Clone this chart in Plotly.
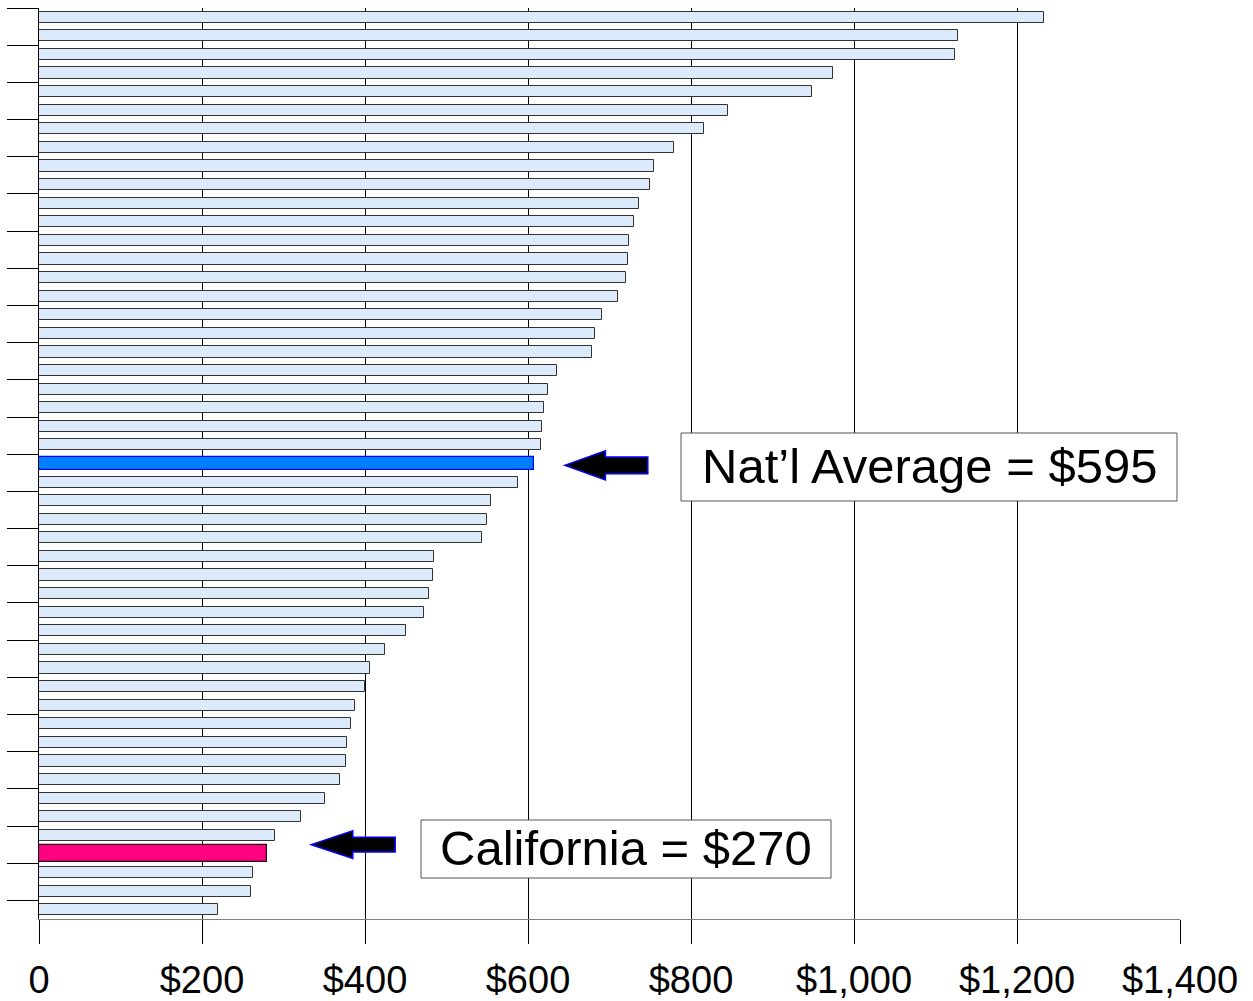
import plotly.graph_objects as go

# ---------------- data (sorted high -> low) ----------------
categories = [f"Rank {i}" for i in range(1, 50)]
categories[24] = "Nat'l Average"
categories[45] = "California"

values = [1233, 1128, 1124, 974, 948, 845, 816, 779, 755, 750,
          736, 730, 724, 723, 720, 711, 691, 682, 678, 636,
          625, 620, 617, 616, 607, 588, 555, 550, 544, 485,
          483, 478, 472, 450, 425, 406, 400, 388, 383, 378,
          377, 369, 351, 322, 289, 280, 262, 260, 220]

highlight_names = ["Nat'l Average", "California"]
highlight_labels = ["Nat\u2019l Average = $595", "California = $270"]

x_tick_values = [0, 200, 400, 600, 800, 1000, 1200, 1400]
x_tick_labels = ["0", "$200", "$400", "$600", "$800", "$1,000", "$1,200", "$1,400"]

# ---------------- layout helpers ----------------
W, H = 1253, 1001
L, R, T, B = 39, 73, 8, 82
FONT = "Liberation Sans, Arial, sans-serif"


def px_x(p):
    return (p - L) / (W - L - R)


def px_y(p):
    return 1 - (p - T) / (H - T - B)


ys = list(range(len(categories)))
n = len(categories)

fig = go.Figure()
fig.add_trace(go.Bar(
    x=values, y=ys, orientation="h", width=0.6,
    marker=dict(color="#DCEBFC", line=dict(color="#333333", width=1)),
    hovertext=categories, showlegend=False,
))

hl_style = {
    "Nat'l Average": dict(color="#0080FF", line="#0000FF", width=0.75),
    "California": dict(color="#FF0080", line="#220011", width=0.92),
}
for name in highlight_names:
    i = categories.index(name)
    st = hl_style[name]
    fig.add_trace(go.Bar(
        x=[values[i]], y=[ys[i]], orientation="h", width=st["width"],
        marker=dict(color=st["color"], line=dict(color=st["line"], width=1.2)),
        hovertext=[name], showlegend=False,
    ))

# arrows (pointing left toward the highlighted bars), geometry in data units
arrow_geom = {
    "Nat'l Average": dict(tip=645, neck=695, end=747, hh=0.78, sh=0.45, dy=0.1),
    "California": dict(tip=334, neck=385, end=437, hh=0.75, sh=0.40, dy=-0.5),
}
shapes = []
for name in highlight_names:
    g = arrow_geom[name]
    yc = ys[categories.index(name)] + g["dy"]
    path = (f"M {g['tip']},{yc} L {g['neck']},{yc - g['hh']} L {g['neck']},{yc - g['sh']} "
            f"L {g['end']},{yc - g['sh']} L {g['end']},{yc + g['sh']} L {g['neck']},{yc + g['sh']} "
            f"L {g['neck']},{yc + g['hh']} Z")
    shapes.append(dict(type="path", path=path, xref="x", yref="y",
                       fillcolor="black", line=dict(color="#0000FF", width=1.5)))

# label boxes (pixel geometry)
boxes = [
    dict(x0=681, x1=1177, y0=433, y1=501),
    dict(x0=421, x1=831, y0=820, y1=878),
]
annotations = []
for b, txt in zip(boxes, highlight_labels):
    shapes.append(dict(type="rect", xref="paper", yref="paper",
                       x0=px_x(b["x0"]), x1=px_x(b["x1"]),
                       y0=px_y(b["y1"]), y1=px_y(b["y0"]),
                       fillcolor="white", line=dict(color="#555555", width=1)))
    annotations.append(dict(
        text=txt, xref="paper", yref="paper",
        x=px_x((b["x0"] + b["x1"]) / 2), y=px_y((b["y0"] + b["y1"]) / 2 - 1),
        xanchor="center", yanchor="middle", showarrow=False,
        font=dict(family=FONT, size=49, color="black"),
    ))

fig.update_layout(
    width=W, height=H,
    margin=dict(l=L, r=R, t=T, b=B, pad=0),
    paper_bgcolor="white", plot_bgcolor="white",
    barmode="overlay", bargap=0,
    shapes=shapes, annotations=annotations,
    showlegend=False,
)
fig.update_xaxes(
    range=[0, 1400], tickvals=x_tick_values, ticktext=x_tick_labels,
    ticks="outside", ticklen=24, tickcolor="black", tickwidth=1,
    ticklabelstandoff=3,
    showgrid=True, gridcolor="black", gridwidth=1,
    showline=True, linecolor="#808080", linewidth=1,
    zeroline=False, automargin=False,
    tickfont=dict(family=FONT, size=38, color="black"),
)
fig.update_yaxes(
    range=[n - 0.5, -0.5], tickvals=[k - 0.5 for k in range(0, n, 2)],
    ticks="outside", ticklen=31, tickcolor="black", tickwidth=1,
    showticklabels=False, showgrid=False,
    showline=True, linecolor="black", linewidth=1,
    zeroline=False, automargin=False,
)

fig.write_html(
    "out.html",
    config={"displayModeBar": False},
    post_script="document.body.style.margin='0';document.body.style.overflow='hidden';",
)
